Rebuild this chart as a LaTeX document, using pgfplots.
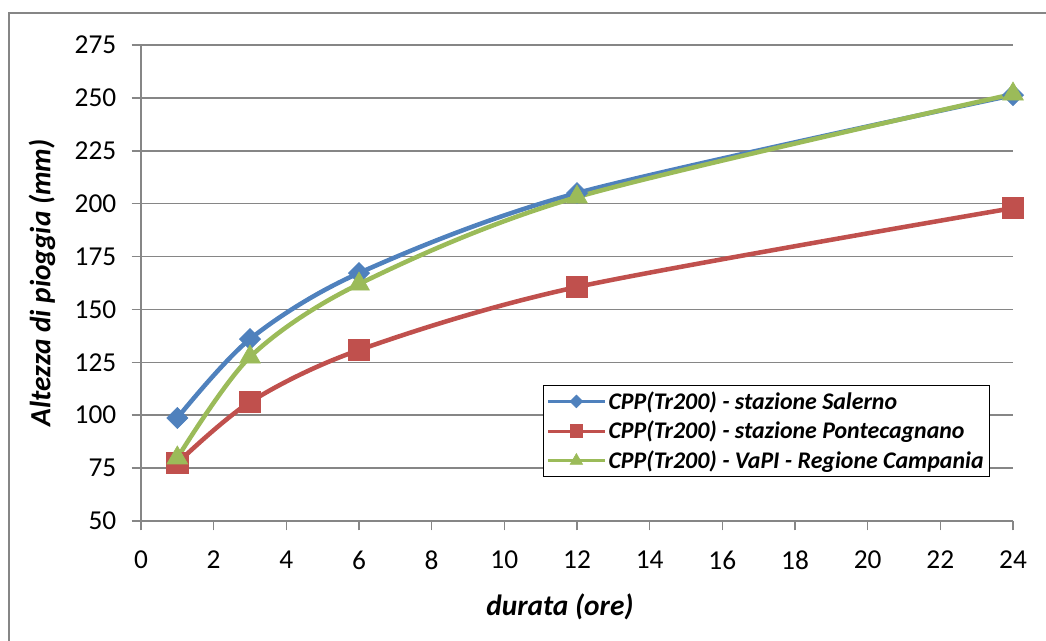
\documentclass[border=0pt]{standalone}
\usepackage{fontspec}
\setmainfont{Carlito}
\usepackage{pgfplots}
\pgfplotsset{compat=1.18}
\definecolor{cblue}{HTML}{4F81BD}
\definecolor{cred}{HTML}{C0504D}
\definecolor{cgreen}{HTML}{9BBB59}
\definecolor{cgrid}{HTML}{868686}
\begin{document}
\begin{tikzpicture}
\useasboundingbox (-105.75pt,-90pt) rectangle (678.75pt,390.75pt);
\clip (-105.75pt,-90pt) rectangle (678.75pt,390.75pt);
\draw[cgrid, line width=1.5pt] (-99pt,-200pt) -- (-99pt,381pt) -- (800pt,381pt);
\begin{axis}[
  at={(0pt,0pt)}, anchor=south west,
  scale only axis, width=654pt, height=357pt,
  xmin=0, xmax=24, ymin=50, ymax=275,
  xtick={0,2,...,24}, ytick={50,75,...,275},
  axis y line*=left, axis x line*=bottom,
  axis line style={cgrid, line width=1.1pt, -},
  tick style={cgrid, line width=1.1pt},
  tick align=outside, major tick length=7pt,
  ymajorgrids, grid style={cgrid, line width=1.1pt},
  /pgf/number format/assume math mode=true,
  ticklabel style={font=\fontsize{20.5}{24}\selectfont},
  yticklabel style={xshift=-8pt},
  xticklabel style={yshift=-12pt},
  xlabel={\textbf{\textit{durata (ore)}}},
  ylabel={\textbf{\textit{Altezza di pioggia (mm)}}},
  label style={font=\fontsize{22}{26}\selectfont},
  xlabel style={at={(axis description cs:0.4805,-0.1807)}, anchor=center},
  ylabel style={at={(axis description cs:-0.1135,0.5)}, anchor=center},
  legend style={at={(axis description cs:0.461,0.2857)}, anchor=north west,
    draw=black, line width=0.9pt, font=\fontsize{17.9}{21.5}\selectfont\bfseries\itshape,
    inner sep=2.5pt, row sep=3.5pt, fill=white},
  legend cell align=left,
  legend image code/.code={\draw[line width=2.2pt, mark repeat=2, mark phase=2, /tikz/every mark/.append style={scale=0.6}] plot coordinates {(0pt,0pt)(21pt,0pt)(42pt,0pt)};},
  every axis plot/.append style={smooth, line width=3.4pt},
]
\addplot[cblue, mark=square*, mark size=5.6pt, mark options={solid, rotate=45, line width=0.5pt}] coordinates {
 (1,98.7) (3,136) (6,167.2) (12,205) (24,251.3)};
\addlegendentry{CPP(Tr200) - stazione Salerno}
\addplot[cred, mark=square*, mark size=7.9pt, mark options={solid, line width=0.5pt}] coordinates {
 (1,77.4) (3,106.2) (6,130.8) (12,160.6) (24,197.9)};
\addlegendentry{CPP(Tr200) - stazione Pontecagnano}
\addplot[cgreen, mark=triangle*, mark size=9pt, mark options={solid, line width=0.5pt}] coordinates {
 (1,79.8) (3,127.5) (6,162) (12,203.1) (24,251.8)};
\addlegendentry{CPP(Tr200) - VaPI - Regione Campania}
\end{axis}
\end{tikzpicture}
\end{document}
